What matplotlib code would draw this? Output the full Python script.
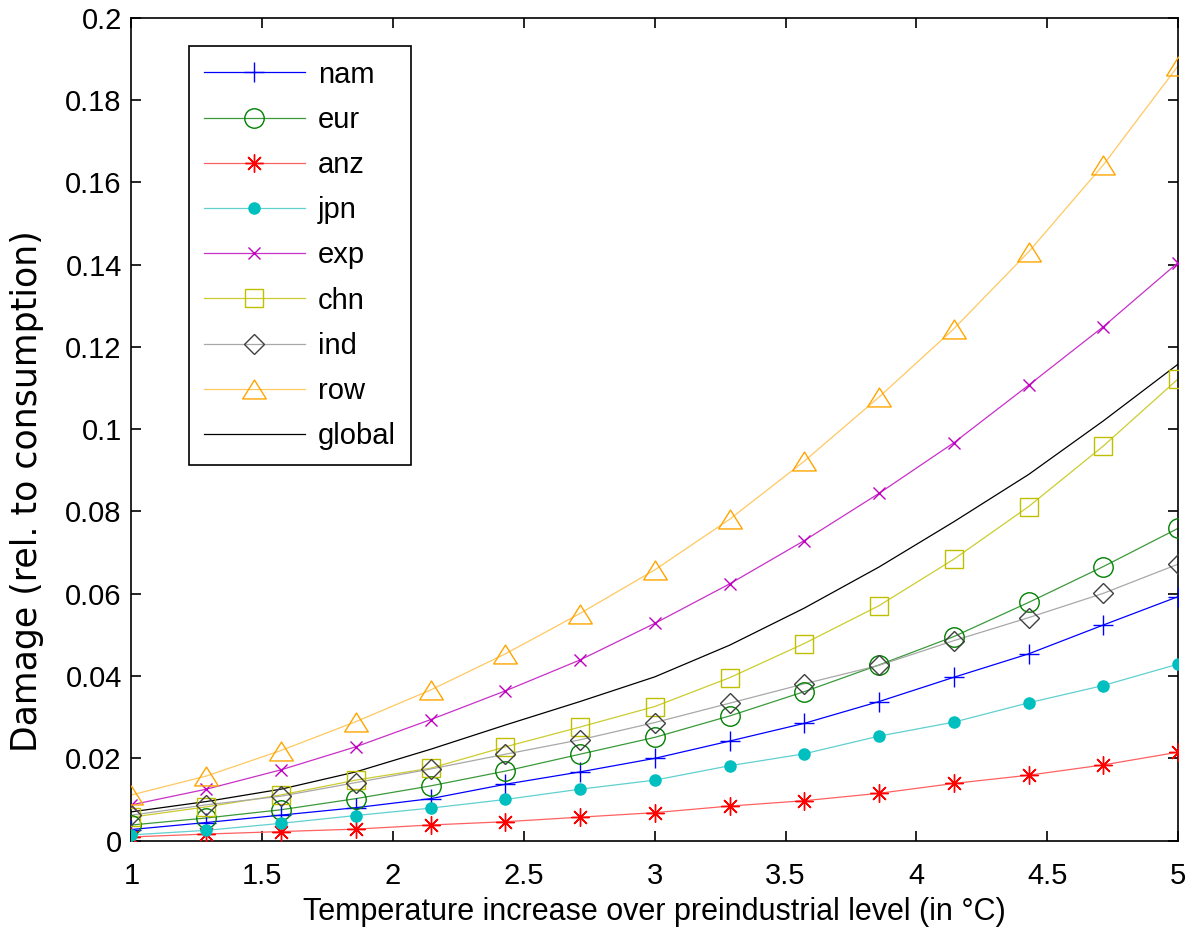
import matplotlib
matplotlib.use("Agg")
import matplotlib.pyplot as plt
from matplotlib.path import Path

plt.rcParams['font.family'] = ['Liberation Sans', 'DejaVu Sans']

# temperature grid (deg C) and damages
temps = [1.0, 1.286, 1.571, 1.857, 2.143, 2.429, 2.714, 3.0,
         3.286, 3.571, 3.857, 4.143, 4.429, 4.714, 5.0]

nam = [0.0027, 0.0044, 0.0062, 0.0080, 0.0102, 0.0137, 0.0167, 0.0200,
       0.0242, 0.0285, 0.0338, 0.0397, 0.0454, 0.0524, 0.0593]
eur = [0.0038, 0.0055, 0.0075, 0.0102, 0.0133, 0.0169, 0.0210, 0.0251,
       0.0303, 0.0362, 0.0427, 0.0496, 0.0579, 0.0666, 0.0759]
anz = [0.0009, 0.0016, 0.0022, 0.0028, 0.0038, 0.0046, 0.0057, 0.0068,
       0.0084, 0.0097, 0.0115, 0.0139, 0.0159, 0.0184, 0.0215]
jpn = [0.0014, 0.0025, 0.0042, 0.0061, 0.0079, 0.0100, 0.0125, 0.0147,
       0.0182, 0.0211, 0.0254, 0.0288, 0.0335, 0.0377, 0.0429]
exp = [0.0087, 0.0125, 0.0172, 0.0228, 0.0294, 0.0364, 0.0439, 0.0528,
       0.0624, 0.0729, 0.0844, 0.0967, 0.1107, 0.1249, 0.1405]
chn = [0.0057, 0.0082, 0.0111, 0.0147, 0.0176, 0.0228, 0.0276, 0.0326,
       0.0396, 0.0479, 0.0571, 0.0684, 0.0812, 0.0959, 0.1122]
ind = [0.0062, 0.0087, 0.0108, 0.0141, 0.0174, 0.0210, 0.0245, 0.0287,
       0.0334, 0.0381, 0.0426, 0.0486, 0.0542, 0.0601, 0.0672]
row = [0.0111, 0.0157, 0.0219, 0.0289, 0.0366, 0.0454, 0.0552, 0.0658,
       0.0781, 0.0922, 0.1078, 0.1244, 0.1431, 0.1642, 0.1883]
glob = [0.0070, 0.0095, 0.0125, 0.0167, 0.0222, 0.0281, 0.0338, 0.0398,
        0.0475, 0.0565, 0.0665, 0.0775, 0.0890, 0.1020, 0.1158]

xticks = [1, 1.5, 2, 2.5, 3, 3.5, 4, 4.5, 5]
xticklabels = ["1", "1.5", "2", "2.5", "3", "3.5", "4", "4.5", "5"]
yticks = [0, 0.02, 0.04, 0.06, 0.08, 0.1, 0.12, 0.14, 0.16, 0.18, 0.2]
yticklabels = ["0", "0.02", "0.04", "0.06", "0.08", "0.1", "0.12",
               "0.14", "0.16", "0.18", "0.2"]

# wide MATLAB-like triangle and asterisk
tri = Path([(0, 0.8), (-1, -0.8), (1, -0.8), (0, 0.8)],
           [Path.MOVETO, Path.LINETO, Path.LINETO, Path.CLOSEPOLY])
star = (8, 2, 0)

fig = plt.figure(figsize=(11.92, 9.30), dpi=100)
ax = fig.add_axes([0.1103, 0.0961, 0.8780, 0.8848])

FS = 21

series = [
    (nam, '#0000ff', '#0000ff', '+', 14, 'nam', 'none'),
    (eur, '#008000', '#3a9a3a', 'o', 14, 'eur', 'none'),
    (anz, '#ff0000', '#ff6060', star, 13, 'anz', 'none'),
    (jpn, '#00bfbf', '#60d0d0', 'o', 8, 'jpn', '#00bfbf'),
    (exp, '#bf00bf', '#c830c8', 'x', 9, 'exp', 'none'),
    (chn, '#bfbf00', '#cccc30', 's', 13.5, 'chn', 'none'),
    (ind, '#404040', '#a8a8a8', 'D', 10, 'ind', 'none'),
    (row, '#ffa500', '#ffc860', tri, 17, 'row', 'none'),
]

handles = []
for y, c, lc, m, ms, lab, fill in series:
    ax.plot(temps, y, color=lc, lw=0.9, zorder=2)
    ax.plot(temps, y, ls='none', marker=m, ms=ms, mec=c, mfc=fill,
            mew=1.0, zorder=3)
    h, = ax.plot([], [], color=lc, lw=0.9, marker=m, ms=ms, mec=c,
                 mfc=fill, mew=1.0, label=lab)
    handles.append(h)

hg, = ax.plot(temps, glob, color='black', lw=0.9, label='global', zorder=2)
handles.append(hg)

ax.set_xlim(1, 5)
ax.set_ylim(0, 0.2)
ax.set_xticks(xticks)
ax.set_xticklabels(xticklabels)
ax.set_yticks(yticks)
ax.set_yticklabels(yticklabels)
ax.tick_params(direction='in', length=7, width=1.2, top=True, right=True,
               labelsize=FS)
ax.tick_params(axis='x', pad=15.5)
ax.tick_params(axis='y', pad=7)
for s in ax.spines.values():
    s.set_linewidth(1.2)

ax.set_xlabel('Temperature increase over preindustrial level (in °C)',
              fontsize=22, labelpad=5)
ax.set_ylabel('Damage (rel. to consumption)', fontsize=25,
              family=['DejaVu Sans'])
ax.yaxis.set_label_coords(-0.0836, 0.425)

leg = ax.legend(handles=handles, loc='upper left',
                bbox_to_anchor=(0.055, 0.9657), borderaxespad=0,
                fontsize=FS, frameon=True, fancybox=False, framealpha=1,
                edgecolor='black', handlelength=3.47, handletextpad=0.45,
                labelspacing=0.59, borderpad=0.5, numpoints=1)
leg.get_frame().set_linewidth(1.2)

fig.savefig('out.png', dpi=100)
